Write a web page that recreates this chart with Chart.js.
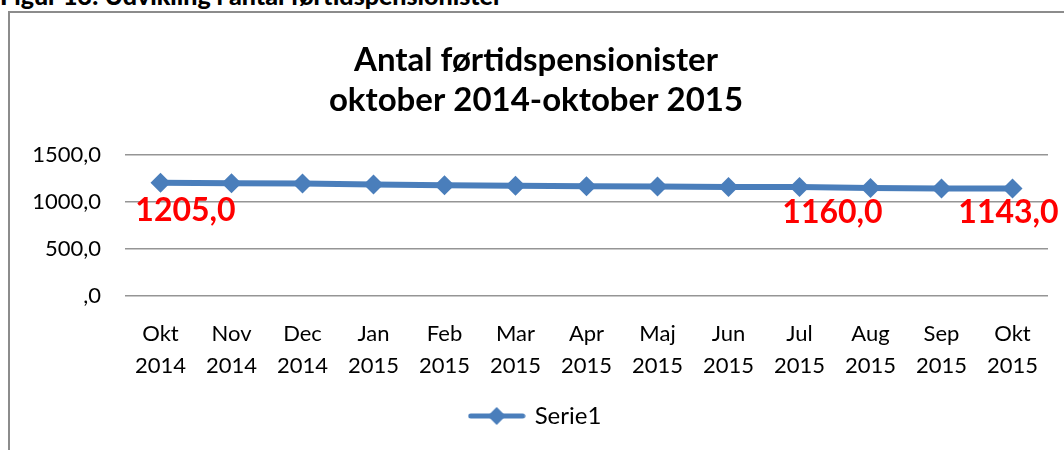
<!DOCTYPE html>
<html>
<head>
<meta charset="utf-8">
<script src="https://cdn.jsdelivr.net/npm/chart.js@4/dist/chart.umd.min.js"></script>
<style>
  html, body { margin: 0; padding: 0; background: #fff; overflow: hidden; }
  body { width: 1064px; height: 450px; position: relative; }
  #header { position: absolute; left: 0; top: -17px; font-family: Lato, sans-serif; font-weight: 900; font-size: 25px; line-height: 24px; color: #000; white-space: nowrap; }
  #frame { position: absolute; left: 8px; top: 11px; width: 1100px; height: 500px; border-left: 2px solid #8c8c8c; border-top: 2px solid #8c8c8c; }
  #wrap { position: absolute; left: 0; top: 0; width: 1064px; height: 450px; }
</style>
</head>
<body>
<div id="header">Figur 13: Udvikling i antal førtidspensionister</div>
<div id="frame"></div>
<div id="wrap"><canvas id="c" width="1064" height="450"></canvas></div>
<script>
const categories = [
  ["Okt","2014"],["Nov","2014"],["Dec","2014"],["Jan","2015"],["Feb","2015"],
  ["Mar","2015"],["Apr","2015"],["Maj","2015"],["Jun","2015"],["Jul","2015"],
  ["Aug","2015"],["Sep","2015"],["Okt","2015"]
];
const serie1 = [1205, 1201, 1196, 1186, 1178, 1174, 1168, 1164, 1160, 1160, 1150, 1145, 1143];
const yTickValues = [0, 500, 1000, 1500];
const yTickLabels = [",0", "500,0", "1000,0", "1500,0"];
const labelIndices = [0, 9, 12];
const labelTexts = ["1205,0", "1160,0", "1143,0"];
const titleLines = ["Antal førtidspensionister", "oktober 2014-oktober 2015"];
const seriesName = "Serie1";

const BLUE = "#4a7ebb";
const FONT = "Lato, 'Open Sans', sans-serif";

// legend glyph: line with diamond
const glyph = document.createElement("canvas");
glyph.width = 58; glyph.height = 22;
(function(){
  const g = glyph.getContext("2d");
  g.strokeStyle = BLUE; g.lineWidth = 5; g.lineCap = "round";
  g.beginPath(); g.moveTo(3, 11); g.lineTo(55, 11); g.stroke();
  g.fillStyle = BLUE;
  g.beginPath(); g.moveTo(29, 2); g.lineTo(38, 11); g.lineTo(29, 20); g.lineTo(20, 11); g.closePath(); g.fill();
})();

// label offsets (style only)
const labelOffsets = [[25, 28], [33, 26], [-4, 24]];

const dataLabelPlugin = {
  id: "dataLabelsCustom",
  afterDatasetsDraw(chart) {
    const meta = chart.getDatasetMeta(0);
    const ctx = chart.ctx;
    ctx.save();
    ctx.font = "bold 32px " + FONT;
    ctx.fillStyle = "#ff0000";
    ctx.textAlign = "center";
    ctx.textBaseline = "middle";
    labelIndices.forEach((idx, i) => {
      const p = meta.data[idx];
      ctx.fillText(labelTexts[i], p.x + labelOffsets[i][0], p.y + labelOffsets[i][1]);
    });
    ctx.restore();
  }
};

new Chart(document.getElementById("c"), {
  type: "line",
  data: {
    labels: categories,
    datasets: [{
      label: seriesName,
      data: serie1,
      borderColor: BLUE,
      backgroundColor: BLUE,
      borderWidth: 6,
      pointStyle: "rectRot",
      pointRadius: 10,
      pointHoverRadius: 10,
      pointBackgroundColor: BLUE,
      pointBorderWidth: 0,
      tension: 0
    }]
  },
  options: {
    responsive: false,
    animation: false,
    events: [],
    layout: { padding: { left: 24, right: 16, top: 40, bottom: 12 } },
    plugins: {
      title: {
        display: true,
        text: titleLines,
        color: "#000",
        font: { family: FONT, size: 33, weight: "bold", lineHeight: 1.212 },
        padding: { top: 0, bottom: 35 }
      },
      legend: {
        display: true,
        position: "bottom",
        labels: {
          usePointStyle: true,
          pointStyle: glyph,
          pointStyleWidth: 52,
          color: "#000",
          font: { family: FONT, size: 24 },
          padding: 8,
          generateLabels(chart) {
            return [{ text: seriesName, pointStyle: glyph, fillStyle: BLUE, strokeStyle: BLUE, lineWidth: 0, datasetIndex: 0 }];
          }
        }
      },
      tooltip: { enabled: false }
    },
    scales: {
      x: {
        offset: true,
        grid: { display: false },
        border: { display: false },
        ticks: {
          color: "#000",
          font: { family: FONT, size: 22, lineHeight: 1.45 },
          maxRotation: 0, minRotation: 0, autoSkip: false, padding: 14
        }
      },
      y: {
        min: 0, max: 1500,
        afterFit(scale) { scale.width = 101; },
        afterBuildTicks(scale) { scale.ticks = yTickValues.map(v => ({ value: v })); },
        grid: { color: "#959595", lineWidth: 1.5, drawTicks: false },
        border: { display: false },
        ticks: {
          color: "#000",
          font: { family: FONT, size: 22 },
          padding: 24,
          callback(value) { const i = yTickValues.indexOf(value); return i >= 0 ? yTickLabels[i] : ""; }
        }
      }
    }
  },
  plugins: [dataLabelPlugin]
});
</script>
</body>
</html>
